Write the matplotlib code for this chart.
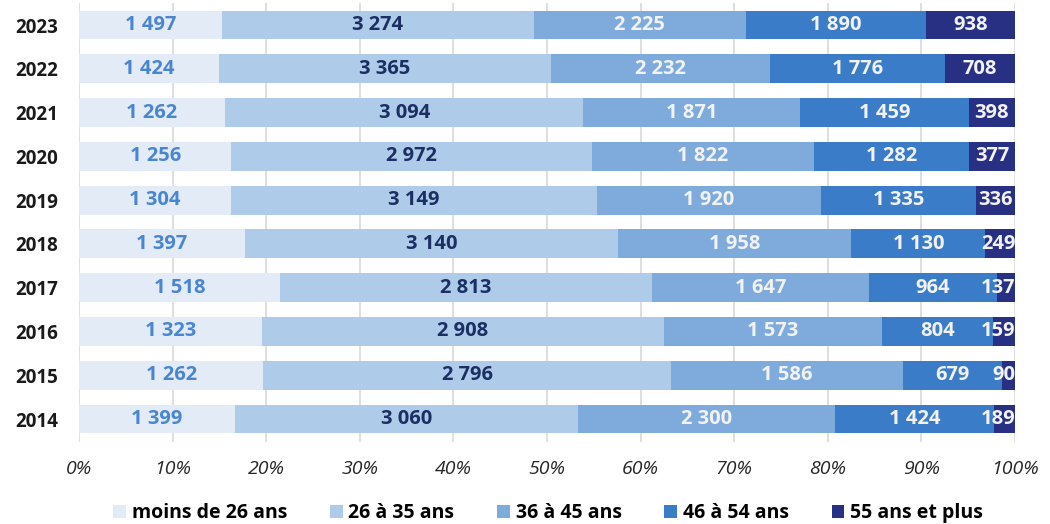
import numpy as np
import matplotlib.pyplot as plt
from matplotlib.patches import Patch

plt.rcParams['font.family'] = ['Open Sans', 'DejaVu Sans']

years = ['2014', '2015', '2016', '2017', '2018', '2019', '2020', '2021', '2022', '2023']
age_groups = ['moins de 26 ans', '26 à 35 ans', '36 à 45 ans', '46 à 54 ans', '55 ans et plus']

under_26 = [1399, 1262, 1323, 1518, 1397, 1304, 1256, 1262, 1424, 1497]
age_26_35 = [3060, 2796, 2908, 2813, 3140, 3149, 2972, 3094, 3365, 3274]
age_36_45 = [2300, 1586, 1573, 1647, 1958, 1920, 1822, 1871, 2232, 2225]
age_46_54 = [1424, 679, 804, 964, 1130, 1335, 1282, 1459, 1776, 1890]
age_55_plus = [189, 90, 159, 137, 249, 336, 377, 398, 708, 938]

series = [under_26, age_26_35, age_36_45, age_46_54, age_55_plus]
colors = ['#e3ebf7', '#afcbea', '#7eaadc', '#3b7cc9', '#283084']
text_colors = ['#4a86d0', '#1b2f63', '#f2f2f2', '#f2f2f2', '#f2f2f2']


def fmt(v):
    # French thousands separator
    return f'{v:,}'.replace(',', ' ')


counts = np.array(series, dtype=float)
shares = counts / counts.sum(axis=0) * 100

fig = plt.figure(figsize=(10.5, 5.24), dpi=100)
ax = fig.add_axes([0.0752, 0.1565, 0.8915, 0.8375])

y = np.arange(len(years))
left = np.zeros(len(years))
for i, vals in enumerate(series):
    ax.barh(y, shares[i], left=left, height=0.66, color=colors[i], zorder=2)
    for j, v in enumerate(vals):
        x = left[j] + shares[i, j] / 2
        ha = 'center'
        # narrow last segments: keep the label flush with the bar end
        if i == len(series) - 1 and shares[i, j] < 4:
            x, ha = 100.05, 'right'
        ax.text(x, y[j], fmt(v), ha=ha, va='center',
                color=text_colors[i], fontsize=14.5, fontweight='bold', zorder=3)
    left += shares[i]

ax.set_xlim(0, 100)
ax.set_ylim(-0.525, 9.5)
ax.set_xticks(np.arange(0, 101, 10))
ax.set_xticklabels([f'{t}%' for t in range(0, 101, 10)], fontsize=14,
                   fontstyle='italic', color='#262626')
ax.set_yticks(y)
ax.set_yticklabels(years, fontsize=13.5, fontweight='bold', color='#1a1a1a')
ax.tick_params(axis='both', length=0)
ax.tick_params(axis='x', pad=13)
ax.tick_params(axis='y', pad=15)
ax.grid(axis='x', color='#d9d9d9', linewidth=1.2, zorder=0)
for s in ax.spines.values():
    s.set_visible(False)

handles = [Patch(facecolor=c, edgecolor='none') for c in colors]
fig.legend(handles, age_groups, loc='center', bbox_to_anchor=(0.522, 0.021),
           ncol=5, frameon=False, handlelength=0.65, handleheight=0.65,
           handletextpad=0.3, columnspacing=2.2,
           prop={'size': 14, 'weight': 'bold'})

fig.savefig('out.png', dpi=100)
